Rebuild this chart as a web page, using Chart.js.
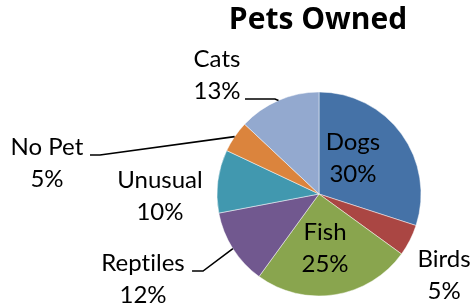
<!DOCTYPE html>
<html><head><meta charset="utf-8">
<script src="https://cdn.jsdelivr.net/npm/chart.js@4/dist/chart.umd.min.js"></script>
<style>html,body{margin:0;padding:0;background:#fff}#wrap{width:476px;height:308px}</style>
</head><body><div id="wrap"><canvas id="c" width="476" height="308"></canvas></div>
<script>
const chartTitle = 'Pets Owned';
const categories = ['Dogs', 'Birds', 'Fish', 'Reptiles', 'Unusual', 'No Pet', 'Cats'];
const percentages = [30, 5, 25, 12, 10, 5, 13];
const sliceColors = ['#4572A7', '#AA4643', '#89A54E', '#71588F', '#4198AF', '#DB843D', '#93A9CF'];

// label block centre relative to pie centre (in radii)
const labelPlacement = [
  {fx: 0.333, fy: -0.358},
  {fx: 1.226, fy: 0.794},
  {fx: 0.059, fy: 0.525},
  {fx: -1.725, fy: 0.824},
  {fx: -1.559, fy: 0.010},
  {fx: -2.667, fy: -0.309},
  {fx: -1.000, fy: -1.172}
];
// leader lines: start offset from label centre (px), horizontal run (px)
const leaderLines = [null, null, null, {sx: 49, sy: -7, h: 11}, null, {sx: 43, sy: -7.5, h: 10}, {sx: 28, sy: 24.5, h: 30}];

const FONT = 'Lato, "DejaVu Sans", sans-serif';

const labelPlugin = {
  id: 'pieLabels',
  afterDatasetsDraw(chart) {
    const ctx = chart.ctx;
    const meta = chart.getDatasetMeta(0);
    ctx.save();
    // title
    ctx.fillStyle = '#000';
    ctx.font = 'bold 30px "Open Sans", sans-serif';
    ctx.textAlign = 'center';
    ctx.textBaseline = 'alphabetic';
    ctx.fillText(chartTitle, 318, 28.5);

    ctx.font = '24px ' + FONT;
    if ('letterSpacing' in ctx) ctx.letterSpacing = '0.01px';
    meta.data.forEach((arc, i) => {
      const p = arc.getProps(['x', 'y', 'startAngle', 'endAngle', 'outerRadius'], true);
      const R = p.outerRadius;
      const cx = p.x + labelPlacement[i].fx * R;
      const cy = p.y + labelPlacement[i].fy * R;
      ctx.fillStyle = '#000';
      ctx.textAlign = 'center';
      ctx.fillText(categories[i], cx, cy - 16 + 8.5);
      ctx.fillText(percentages[i] + '%', cx, cy + 16 + 8.5);
      const L = leaderLines[i];
      if (L) {
        const mid = (p.startAngle + p.endAngle) / 2;
        const ex = p.x + Math.cos(mid) * R;
        const ey = p.y + Math.sin(mid) * R;
        const sx = cx + L.sx, sy = cy + L.sy;
        ctx.strokeStyle = '#000';
        ctx.lineWidth = 1.6;
        ctx.beginPath();
        ctx.moveTo(sx, sy);
        ctx.lineTo(sx + L.h, sy);
        ctx.lineTo(ex, ey);
        ctx.stroke();
      }
    });
    ctx.restore();
  }
};

new Chart(document.getElementById('c'), {
  type: 'pie',
  data: {
    labels: categories,
    datasets: [{
      data: percentages,
      backgroundColor: sliceColors,
      borderColor: 'rgba(255,255,255,0.6)',
      borderWidth: 0.8,
      radius: 102
    }]
  },
  options: {
    responsive: false,
    devicePixelRatio: 1,
    animation: false,
    events: [],
    layout: {padding: {left: 214, right: 52, top: 89, bottom: 9}},
    plugins: {legend: {display: false}, tooltip: {enabled: false}, title: {display: false}}
  },
  plugins: [labelPlugin]
});
</script></body></html>
